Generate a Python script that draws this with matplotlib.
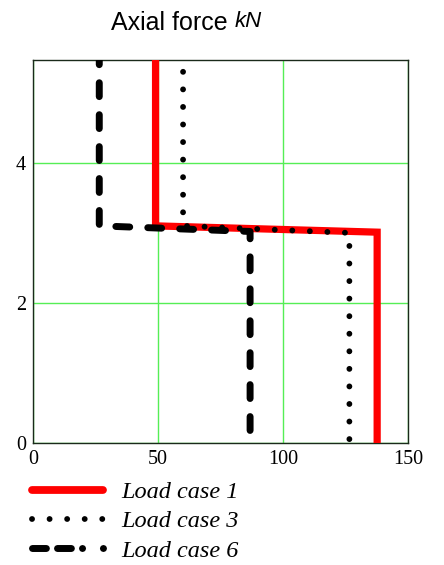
import numpy as np
import matplotlib.pyplot as plt
from matplotlib.lines import Line2D

# axial force (kN) vs height
case1_x = [49, 49, 137.6, 137.6]
case1_y = [5.6, 3.1, 3.01, 0]
case3_x = [60, 60, 126.5, 126.5]
case3_y = [5.3, 3.1, 3.0, 0]
case6_x = [26.5, 26.5, 86.8, 86.8]
case6_y = [5.6, 3.1, 3.02, 0]

labels = ['Load case 1', 'Load case 3', 'Load case 6']
xticks = [0, 50, 100, 150]
yticks = [0, 2, 4]

fig = plt.figure(figsize=(4.44, 5.65), dpi=100)
ax = fig.add_axes([0.0743, 0.216, 0.845, 0.678])

green = '#55ee55'
ax.grid(True, color=green, lw=1)
ax.set_axisbelow(True)

dot_style = (0, (0.01, 3.0))
dash_style = (0, (2.0, 2.6))

ax.plot(case1_x, case1_y, color='red', lw=5.2, solid_joinstyle='miter', zorder=3)
ax.plot(case3_x, case3_y, color='black', lw=4.2, linestyle=dot_style,
        dash_capstyle='round', zorder=4)
ax.plot(case6_x, case6_y, color='black', lw=5, linestyle=dash_style,
        dash_capstyle='round', zorder=5)

ax.set_xlim(0, 150)
ax.set_ylim(0, 5.47)
ax.set_xticks(xticks)
ax.set_yticks(yticks)
ax.tick_params(length=0, labelsize=14.5, pad=5)
for t in ax.get_xticklabels() + ax.get_yticklabels():
    t.set_family('Liberation Serif')
for s in ax.spines.values():
    s.set_color('#1a2a1a')
    s.set_linewidth(1)

fig.text(0.25, 0.947, 'Axial force', family='Liberation Sans', fontsize=18, va='baseline')
fig.text(0.529, 0.953, 'kN', family='Liberation Sans', style='italic', fontsize=16, va='baseline')

handles = [
    Line2D([], [], color='red', lw=5.6, solid_capstyle='round'),
    Line2D([], [], color='black', lw=4.2, linestyle=dot_style, dash_capstyle='round'),
    Line2D([], [], color='black', lw=5, linestyle=(0, (2.0, 1.6, 2.0, 1.6, 0.01, 3)),
           dash_capstyle='round'),
]
fig.legend(handles, labels, loc='upper left', bbox_to_anchor=(0.045, 0.17),
           frameon=False, handlelength=2.9, handletextpad=0.75, labelspacing=0.3,
           borderpad=0, prop={'family': 'Liberation Serif', 'style': 'italic', 'size': 17.5})

fig.savefig('out.png', dpi=100)
